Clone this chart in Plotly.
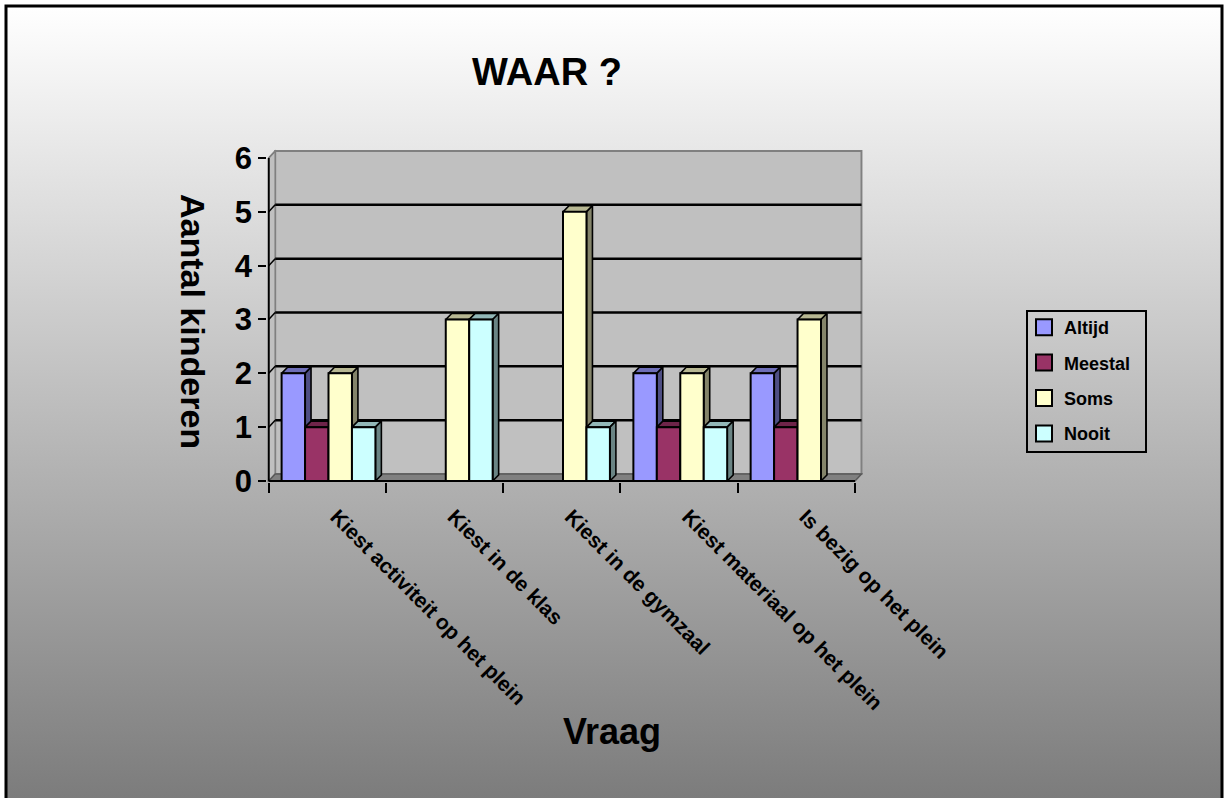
import base64
import plotly.graph_objects as go

# ---- data -------------------------------------------------------------
categories = [
    "Kiest activiteit op het plein",
    "Kiest in de klas",
    "Kiest in de gymzaal",
    "Kiest materiaal op het plein",
    "Is bezig op het plein",
]
series_names = ["Altijd", "Meestal", "Soms", "Nooit"]
altijd = [2, 0, 0, 2, 2]
meestal = [1, 0, 0, 1, 1]
soms = [2, 3, 5, 2, 3]
nooit = [1, 3, 1, 1, 0]
y_ticks = [0, 1, 2, 3, 4, 5, 6]

series_values = [altijd, meestal, soms, nooit]
series_colors = ["#9999FF", "#993366", "#FFFFCC", "#CCFFFF"]

# ---- geometry ---------------------------------------------------------
W, H = 1229, 798
FONT = "Liberation Sans, Arial, sans-serif"

BAR_W = 0.2            # width of one column (category units)
FIRST_OFFSET = -0.39   # left edge of first column relative to category centre
WALL_DX, WALL_DY = 0.0554, 0.130   # depth of the back wall
BAR_DX, BAR_DY = 0.051, 0.112      # depth of each column
PAD_X, PAD_Y = 0.012, 0.025

n_cat = len(categories)
x_lo, x_hi = -0.5, n_cat - 0.5
y_lo, y_hi = y_ticks[0], y_ticks[-1]
x_range = [x_lo - PAD_X, x_hi + WALL_DX + PAD_X]
y_range = [y_lo - PAD_Y, y_hi + WALL_DY + PAD_Y]

# pixel placement of the plotting box
px_front_left, px_front_right = 268.7, 855.0
px_zero, px_top_tick = 481.0, 158.0
ppu_x = (px_front_right - px_front_left) / (x_hi - x_lo)
ppu_y = (px_zero - px_top_tick) / (y_hi - y_lo)
dom_x0 = px_front_left - PAD_X * ppu_x
dom_x1 = dom_x0 + (x_range[1] - x_range[0]) * ppu_x
dom_y0 = px_zero + PAD_Y * ppu_y
dom_y1 = dom_y0 - (y_range[1] - y_range[0]) * ppu_y
x_domain = [dom_x0 / W, dom_x1 / W]
y_domain = [1 - dom_y0 / H, 1 - dom_y1 / H]


def shade(hex_color, f):
    h = hex_color.lstrip("#")
    r, g, b = (int(h[i:i + 2], 16) for i in (0, 2, 4))
    return "rgb(%d,%d,%d)" % (r * f, g * f, b * f)


fig = go.Figure()

# ---- 3D faces (top and right side) of each column ----------------------
for s, (name, vals, col) in enumerate(zip(series_names, series_values, series_colors)):
    off = FIRST_OFFSET + s * BAR_W
    tx, ty, sx, sy = [], [], [], []
    for i, v in enumerate(vals):
        if v <= 0:
            continue
        L = i + off
        R = L + BAR_W
        tx += [L, R, R + BAR_DX, L + BAR_DX, L, None]
        ty += [v, v, v + BAR_DY, v + BAR_DY, v, None]
        sx += [R, R + BAR_DX, R + BAR_DX, R, R, None]
        sy += [0, BAR_DY, v + BAR_DY, v, 0, None]
    fig.add_trace(go.Scatter(x=tx, y=ty, mode="lines", fill="toself",
                             fillcolor=shade(col, 0.72),
                             line=dict(color="black", width=1.6),
                             hoverinfo="skip", showlegend=False))
    fig.add_trace(go.Scatter(x=sx, y=sy, mode="lines", fill="toself",
                             fillcolor=shade(col, 0.52),
                             line=dict(color="black", width=1.6),
                             hoverinfo="skip", showlegend=False))

# ---- front faces of the columns (overlay subplot, drawn on top) --------
for s, (name, vals, col) in enumerate(zip(series_names, series_values, series_colors)):
    fig.add_trace(go.Bar(
        x=list(range(n_cat)), y=vals, name=name,
        width=BAR_W, offset=FIRST_OFFSET + s * BAR_W,
        marker=dict(color=col, line=dict(color="black", width=2)),
        xaxis="x2", yaxis="y2", showlegend=False,
    ))

# ---- legend entries ---------------------------------------------------
for name, col in zip(series_names, series_colors):
    fig.add_trace(go.Scatter(
        x=[None], y=[None], mode="markers", name=name, legendgroup=name,
        marker=dict(symbol="square", size=16, color=col,
                    line=dict(color="black", width=2)),
    ))

# ---- walls, floor and gridlines ---------------------------------------
shapes = []
# back wall
shapes.append(dict(type="rect", xref="x", yref="y", layer="below",
                   x0=x_lo + WALL_DX, x1=x_hi + WALL_DX,
                   y0=y_lo + WALL_DY, y1=y_hi + WALL_DY,
                   fillcolor="#C0C0C0", line=dict(color="#808080", width=2)))
# left side wall
shapes.append(dict(type="path", xref="x", yref="y", layer="below",
                   path="M%f,%f L%f,%f L%f,%f L%f,%f Z" % (
                       x_lo, y_lo, x_lo, y_hi,
                       x_lo + WALL_DX, y_hi + WALL_DY, x_lo + WALL_DX, y_lo + WALL_DY),
                   fillcolor="#C0C0C0", line=dict(color="#808080", width=1.5)))
# floor
shapes.append(dict(type="path", xref="x", yref="y", layer="below",
                   path="M%f,%f L%f,%f L%f,%f L%f,%f Z" % (
                       x_lo, y_lo, x_hi, y_lo,
                       x_hi + WALL_DX, y_lo + WALL_DY, x_lo + WALL_DX, y_lo + WALL_DY),
                   fillcolor="#808080", line=dict(color="#595959", width=1.5)))
# gridlines on back wall and left wall
for k in y_ticks[1:-1]:
    shapes.append(dict(type="line", xref="x", yref="y", layer="below",
                       x0=x_lo + WALL_DX, x1=x_hi + WALL_DX,
                       y0=k + WALL_DY, y1=k + WALL_DY,
                       line=dict(color="black", width=2.5)))
    shapes.append(dict(type="line", xref="x", yref="y", layer="below",
                       x0=x_lo, x1=x_lo + WALL_DX, y0=k, y1=k + WALL_DY,
                       line=dict(color="black", width=1.5)))
shapes.append(dict(type="line", xref="x", yref="y", layer="below",
                   x0=x_lo, x1=x_lo + WALL_DX, y0=y_hi, y1=y_hi + WALL_DY,
                   line=dict(color="#808080", width=1.5)))
# front axis edges
shapes.append(dict(type="line", xref="x", yref="y",
                   x0=x_lo, x1=x_lo, y0=y_lo, y1=y_hi,
                   line=dict(color="black", width=2)))
shapes.append(dict(type="line", xref="x", yref="y",
                   x0=x_lo, x1=x_hi, y0=y_lo, y1=y_lo,
                   line=dict(color="black", width=2)))
# outer frame of the chart
shapes.append(dict(type="rect", xref="paper", yref="paper",
                   x0=6 / W, x1=1222 / W, y0=-0.02, y1=1 - 6 / H,
                   line=dict(color="black", width=3)))
# legend frame
shapes.append(dict(type="rect", xref="paper", yref="paper",
                   x0=1027 / W, x1=1146 / W, y0=1 - 452 / H, y1=1 - 311 / H,
                   line=dict(color="black", width=2)))

# ---- background gradient ----------------------------------------------
svg = (
    '<svg xmlns="http://www.w3.org/2000/svg" width="%d" height="%d">'
    '<defs><linearGradient id="g" x1="0" y1="0" x2="0" y2="1">'
    '<stop offset="0" stop-color="#ffffff"/><stop offset="1" stop-color="#7c7c7c"/>'
    '</linearGradient></defs>'
    '<rect width="%d" height="%d" fill="#ffffff"/>'
    '<rect x="6" y="6" width="1216" height="%d" fill="url(#g)"/></svg>'
) % (W, H, W, H, H - 6)
bg_src = "data:image/svg+xml;base64," + base64.b64encode(svg.encode()).decode()

axis_font = dict(family=FONT, size=31, color="black", weight="bold")

fig.update_layout(
    width=W, height=H,
    margin=dict(l=0, r=0, t=0, b=0),
    paper_bgcolor="white",
    plot_bgcolor="rgba(0,0,0,0)",
    barmode="overlay",
    shapes=shapes,
    images=[dict(source=bg_src, xref="paper", yref="paper", x=0, y=1,
                 sizex=1, sizey=1, xanchor="left", yanchor="top",
                 sizing="stretch", layer="below")],
    title=dict(text="WAAR ?", x=547 / W, y=1 - 72 / H, xref="paper", yref="paper",
               xanchor="center", yanchor="middle",
               font=dict(family=FONT, size=38, color="black", weight="bold")),
    xaxis=dict(domain=x_domain, range=x_range, fixedrange=True,
               tickmode="array", tickvals=list(range(n_cat)), ticktext=categories,
               ticks="", tickangle=45, showgrid=False, zeroline=False, showline=False,
               ticklabelstandoff=17, ticklabelshift=9,
               tickfont=dict(family=FONT, size=21, color="black", weight="bold"),
               minor=dict(tickmode="array",
                          tickvals=[i - 0.5 for i in range(n_cat + 1)],
                          ticks="outside", ticklen=10, tickwidth=2, tickcolor="black"),
               automargin=False),
    yaxis=dict(domain=y_domain, range=y_range, fixedrange=True,
               tickmode="array", tickvals=y_ticks, ticks="outside", ticklen=8,
               tickwidth=2, tickcolor="black", showgrid=False, zeroline=False,
               showline=False, tickfont=axis_font, automargin=False),
    xaxis2=dict(overlaying="x", range=x_range, visible=False, fixedrange=True),
    yaxis2=dict(overlaying="y", range=y_range, visible=False, fixedrange=True),
    legend=dict(x=1024 / W, y=1 - 309 / H, xanchor="left", yanchor="top",
                bgcolor="rgba(0,0,0,0)", borderwidth=0, tracegroupgap=9,
                font=dict(family=FONT, size=18, color="black", weight="bold")),
    annotations=[
        dict(text="Aantal kinderen", textangle=90, x=193 / W, y=1 - 321 / H,
             xref="paper", yref="paper", showarrow=False,
             xanchor="center", yanchor="middle",
             font=dict(family=FONT, size=34, color="black", weight="bold")),
        dict(text="Vraag", x=612 / W, y=1 - 731 / H,
             xref="paper", yref="paper", showarrow=False,
             xanchor="center", yanchor="middle",
             font=dict(family=FONT, size=36, color="black", weight="bold")),
    ],
)

fig.write_html("out.html")
